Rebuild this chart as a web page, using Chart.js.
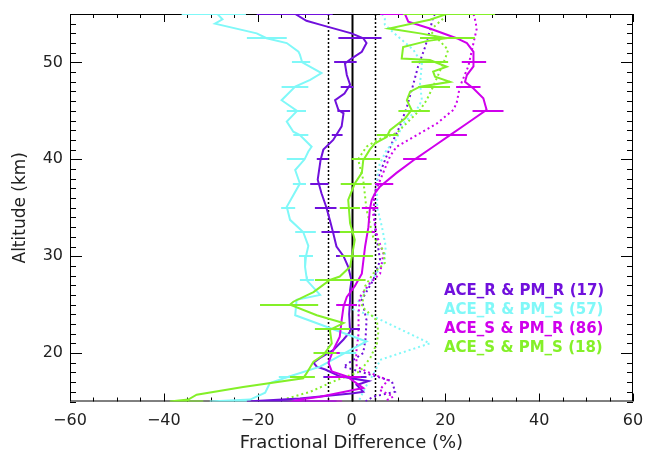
<!DOCTYPE html>
<html>
<head>
<meta charset="utf-8">
<script src="https://cdn.jsdelivr.net/npm/chart.js@4"></script>
<style>
  html, body { margin: 0; padding: 0; background: #fff; }
  #wrap { width: 645px; height: 454px; position: relative; }
</style>
</head>
<body>
<div id="wrap"><canvas id="c" width="645" height="454"></canvas></div>
<script>
// ---------------- DATA ----------------
const xTicks = [-60, -40, -20, 0, 20, 40, 60];
const yTicks = [20, 30, 40, 50];
const refLines = [-5, 0, 5];
const seriesLabels = ['ACE_R & PM_R (17)', 'ACE_R & PM_S (57)', 'ACE_S & PM_R (86)', 'ACE_S & PM_S (18)'];

// ACE_R & PM_R — solid profile
const rrAlt  = [55, 55, 55, 54.3, 53.9, 53.0, 52.5, 52.0, 51.1, 50.4, 49.9, 48.7, 47.7, 46.8, 46.1, 45.1, 44.75, 43.4, 42.0, 41.0, 39.9, 37.9, 36.5, 35.1, 33.7, 32.4, 31.0, 30.0, 28.9, 27.5, 26.5, 25.5, 24.0, 22.2, 21.4, 20.3, 19.5, 19.0, 18.6, 18.3, 17.6, 17.1, 16.7, 16.0, 15.85, 15.3, 15, 15];
const rrDiff = [-4, -20.2, -12, -9.6, -6.7, 0, 2.5, 3.2, 2.2, 0, -1.4, -1.0, -0.3, -1.5, -3.5, -2.8, -1.7, -2.1, -3.9, -6.0, -6.6, -7.2, -6.4, -5.4, -4.6, -3.9, -3.2, -1.7, -0.7, 0, -0.3, -0.3, -0.5, -0.3, -1.7, -3.9, -6.7, -8.1, -7.4, -5.6, -2.5, 3.6, 1.1, 2.5, 0.4, -11, -22.3, -3.2];
// ACE_R & PM_R — dotted profile
const rrDotAlt  = [55, 54.7, 53.3, 51.6, 49.6, 47.8, 45.4, 43.4, 41.65, 40.0, 37.9, 35.8, 33.0, 31.7, 29.6, 27.5, 25.5, 23.4, 21.5, 20.0, 18.6, 17.1, 16.0, 15.5, 15];
const rrDotDiff = [17.8, 17.4, 16.7, 15.7, 14.2, 13.2, 11.8, 10.3, 8.6, 7.2, 5.5, 4.8, 5.0, 5.4, 6.1, 4.6, 2.2, 3.2, 3.0, 2.5, -1.7, 8.6, 9.3, 4.6, 3];

// ACE_R & PM_S — solid profile
const rsAlt  = [55, 55, 55, 54.9, 54.45, 54.0, 53.0, 52.5, 52.0, 51.1, 50.8, 50.0, 48.9, 48.2, 47.5, 46.1, 45.0, 43.9, 42.85, 42.5, 41.3, 40.8, 40.0, 38.9, 37.5, 35.1, 33.75, 32.5, 31.06, 30.0, 28.9, 27.9, 27.5, 26.0, 25.5, 23.9, 21.2, 20.3, 18.6, 17.6, 16.9, 15.9, 15.2, 15, 15];
const rsDiff = [-22.5, -36.2, -28.4, -28.4, -27.5, -29.1, -20.2, -18.1, -13.8, -11.3, -11.0, -10.5, -6.4, -8.8, -12, -14.9, -11.6, -13.8, -12.4, -11, -8.5, -9.2, -10, -12.0, -11, -13.8, -13.1, -10.3, -9.2, -9.7, -9.9, -9.6, -9.5, -6.7, -11.7, -12.0, 3.2, -0.3, -6.7, -13.1, -17.4, -18.4, -21.6, -30.2, -22.3];
// ACE_R & PM_S — dotted profile
const rsDotAlt  = [55, 54.5, 53.9, 52.8, 51.3, 49.9, 47.8, 46.1, 45.1, 43.7, 42, 41, 39.5, 37.9, 35, 33, 31, 29.5, 28, 26.5, 24.5, 23.8, 21.0, 19.3, 18.1, 16.5, 15.5, 15];
const rsDotDiff = [6.5, 7.1, 7.1, 9.6, 13.2, 15, 14.6, 15, 13.9, 11, 9.5, 7.5, 6.0, 5.4, 5.5, 6.5, 7.3, 7.0, 5.0, 3.0, 0.4, 4.6, 16.7, 6.1, 5.0, 3.0, 2.0, 1.5];

// ACE_S & PM_R — solid profile
const srAlt  = [55, 55, 54.2, 53.5, 52.5, 52.0, 51.1, 49.6, 48.7, 48.0, 47.3, 46.3, 45.1, 43.7, 42.5, 41.3, 40.0, 38.6, 37.2, 36.5, 35.8, 34.8, 33.0, 31.0, 28.2, 26.9, 25.8, 24.8, 23.4, 21.7, 20.3, 19.0, 18.1, 17.6, 16.4, 15.5, 15.2, 15, 15];
const srDiff = [6.1, 11.4, 12.1, 16.7, 22.4, 24.6, 26, 26, 24.6, 24.2, 26, 28.1, 28.8, 24.6, 21, 17.4, 13.5, 9.6, 6.1, 5.0, 4.3, 3.9, 3.6, 2.9, 2.2, 0.7, -1.0, -1.7, -2.1, -2.5, -3.9, -4.9, -4.2, -1.0, 2.5, -6.7, -11, -12.5, -2];
// ACE_S & PM_R — dotted profile
const srDotAlt  = [55, 54.5, 53.5, 52, 49.6, 47.5, 45.8, 45.1, 43.7, 42.3, 41.3, 40.3, 38.2, 36.5, 34.4, 32.0, 30.3, 28.2, 27.2, 25.8, 24.0, 22.0, 20.0, 18.6, 18.1, 17.2, 16.2, 15.5, 15];
const srDotDiff = [26.0, 26.3, 26.7, 26.0, 24.9, 23.1, 22.4, 21.7, 18.2, 13.2, 9.6, 8.2, 6.4, 5.0, 4.6, 5.5, 6.8, 6.1, 3.9, 1.8, 1.5, 1.5, 1.0, 1.1, 3.2, 7.8, 6.0, 8.9, 7];

// ACE_S & PM_S — solid profile
const ssAlt  = [55, 55, 55, 54.4, 53.5, 53.0, 52.5, 52.2, 51.6, 50.4, 50.25, 49.56, 49.05, 48.53, 48.0, 47.5, 46.98, 46.1, 45.1, 44.2, 43.0, 42.3, 41.65, 41.0, 39.9, 38.6, 37.5, 35.8, 33.4, 31.7, 28.9, 27.9, 27.55, 26.3, 25.3, 25.0, 23.9, 23.1, 22.4, 21.0, 19.8, 19.1, 17.9, 17.4, 16.5, 15.7, 15.2, 15, 15];
const ssDiff = [30.6, 11, 20.3, 16.7, 8.0, 14.6, 20.3, 16.0, 11, 10.7, 16.7, 20.3, 17.4, 17.8, 21, 14.6, 12.5, 11.8, 12.8, 11.4, 8.2, 7.5, 5.0, 3.9, 2.5, 2.2, 0.7, -0.7, -0.3, 0.7, -0.3, -2.5, -4.6, -8.1, -12.4, -13.1, -7.4, -1.7, -4.6, -4.2, -6.0, -8.1, -9.6, -10.3, -23.1, -33.0, -34.8, -38.7, -31.6];
// ACE_S & PM_S — dotted profile
const ssDotAlt  = [55, 54.55, 53.3, 51.3, 50.3, 47.5, 46.1, 45.1, 42.7, 42.0, 41.3, 40.0, 37.9, 34.8, 32.0, 30.6, 29.3, 28.2, 26.9, 24.8, 23.4, 22.1, 21.0, 19.5, 18.1, 17.2, 16.0, 15.3, 15];
const ssDotDiff = [19.5, 19.6, 16.7, 20.6, 19.9, 17.4, 16.0, 14.6, 9.6, 5.5, 3.2, 1.4, 2.5, 3.2, 4.6, 6.8, 7.1, 4.6, 2.9, 2.2, 5.4, 5.7, 5.4, 4.0, 1.8, -3.2, -8.8, -13.8, -15];

// error bars (altitudes and low/high ends)
const barAlt = [52.5, 50, 47.5, 45, 42.5, 40, 37.5, 35, 32.5, 30, 27.5, 25, 22.5, 20, 17.5];
const rrBarLo = [-2.8, -3.7, -2.3, -3.0, -4.2, -7.4, -8.8, -7.8, -6.4, -3.3, -1.5, -3.2, -1.5, -5.5, -6.0];
const rrBarHi = [6.4, 1.1, 0.4, -0.3, -1.9, -4.9, -4.9, -3.2, -1.4, 0.4, 1.5, 1.1, 1.8, -2.0, 3.2];
const rsBarLo = [-22.3, -12.7, -14.9, -13.8, -12.4, -13.8, -12.5, -15, -12, -11.2, -11.0, -13.5, -6.5, -3.5, -15.5];
const rsBarHi = [-13.8, -8.8, -9.2, -9.7, -9.2, -9.9, -9.7, -12, -7.6, -8.2, -8.0, -9.5, -1.5, 1.0, -11.5];
const srBarLo = [20, 23.5, 22.3, 25.8, 18, 11, 5, 2.2, 2, 1.5, 0, -3.2, -3.5, -5.5, -5];
const srBarHi = [25, 28.7, 27.5, 32.4, 24.6, 16, 8.9, 5.7, 5, 4.5, 2.5, 1.1, -0.5, -2.5, 2];
const ssBarLo = [14.6, 12.8, 14.2, 10, 5.4, 0, -2.3, -2.5, -2.5, -2.5, -7.8, -19.5, -7.8, -8.1, -13.1];
const ssBarHi = [26.3, 20.6, 21, 16.7, 10, 6.1, 4.3, 1.8, 4.3, 4.6, 3.0, -7.1, -0.3, -3.2, -7.8];

// ---------------- STYLE ----------------
const C_RR = '#7010dc';
const C_RS = '#80f8f8';
const C_SR = '#d000ec';
const C_SS = '#84f028';
const seriesColors = [C_RR, C_RS, C_SR, C_SS];

function pts(alt, diff) { return alt.map((a, i) => ({ x: diff[i], y: a })); }

function lineDs(label, alt, diff, color, dotted) {
  return {
    label: label,
    data: pts(alt, diff),
    showLine: true,
    borderColor: color,
    backgroundColor: color,
    borderWidth: 2,
    borderDash: dotted ? [2, 3] : [],
    pointRadius: 0,
    pointHoverRadius: 0,
    tension: 0,
    fill: false
  };
}

const bars = [
  { lo: rrBarLo, hi: rrBarHi, color: C_RR },
  { lo: rsBarLo, hi: rsBarHi, color: C_RS },
  { lo: srBarLo, hi: srBarHi, color: C_SR },
  { lo: ssBarLo, hi: ssBarHi, color: C_SS }
];

const frameOnly = {
  id: 'frameOnly',
  beforeDatasetsDraw(chart) {
    const { ctx, chartArea: a, scales: { x, y } } = chart;
    ctx.save();
    refLines.forEach(v => {
      const px = Math.round(x.getPixelForValue(v)) + 0.5;
      ctx.beginPath();
      ctx.strokeStyle = '#000';
      if (v === 0) { ctx.lineWidth = 2; ctx.setLineDash([]); }
      else { ctx.lineWidth = 1.5; ctx.setLineDash([2, 2]); }
      ctx.moveTo(px, a.top); ctx.lineTo(px, a.bottom);
      ctx.stroke();
    });
    ctx.setLineDash([]);
    ctx.strokeStyle = '#000';
    ctx.lineWidth = 1;
    ctx.strokeRect(a.left + 0.5, a.top + 0.5, a.right - a.left - 1, a.bottom - a.top - 1);
    ctx.beginPath();
    for (let v = x.min; v <= x.max + 1e-6; v += 5) {
      const px = Math.round(x.getPixelForValue(v)) + 0.5;
      const len = (v % 20 === 0) ? 8 : 4;
      ctx.moveTo(px, a.bottom); ctx.lineTo(px, a.bottom - len);
      ctx.moveTo(px, a.top); ctx.lineTo(px, a.top + len);
    }
    for (let v = y.min; v <= y.max + 1e-6; v += 1) {
      const py = Math.round(y.getPixelForValue(v)) + 0.5;
      const len = (v % 10 === 0) ? 12 : 6;
      ctx.moveTo(a.left, py); ctx.lineTo(a.left + len, py);
      ctx.moveTo(a.right, py); ctx.lineTo(a.right - len, py);
    }
    ctx.stroke();
    ctx.restore();
  },
  afterDatasetsDraw(chart) {
    const { ctx, chartArea: a, scales: { x, y } } = chart;
    ctx.save();
    ctx.beginPath();
    ctx.rect(a.left - 1, a.top - 1, a.right - a.left + 2, a.bottom - a.top + 2);
    ctx.clip();
    ctx.lineWidth = 2;
    bars.forEach(b => {
      ctx.strokeStyle = b.color;
      ctx.beginPath();
      barAlt.forEach((alt, i) => {
        const py = Math.round(y.getPixelForValue(alt));
        ctx.moveTo(x.getPixelForValue(b.lo[i]), py);
        ctx.lineTo(x.getPixelForValue(b.hi[i]), py);
      });
      ctx.stroke();
    });
    ctx.restore();
    ctx.save();
    ctx.font = 'bold 15px "DejaVu Sans", sans-serif';
    ctx.textAlign = 'left';
    ctx.textBaseline = 'middle';
    seriesLabels.forEach((t, i) => {
      ctx.fillStyle = seriesColors[i];
      ctx.fillText(t, 444, 291 + i * 19.2);
    });
    ctx.restore();
  }
};

const ctx = document.getElementById('c').getContext('2d');
new Chart(ctx, {
  type: 'scatter',
  data: {
    datasets: [
      lineDs(seriesLabels[3] + ' solid', ssAlt, ssDiff, C_SS, false),
      lineDs(seriesLabels[2] + ' solid', srAlt, srDiff, C_SR, false),
      lineDs(seriesLabels[1] + ' solid', rsAlt, rsDiff, C_RS, false),
      lineDs(seriesLabels[0] + ' solid', rrAlt, rrDiff, C_RR, false),
      lineDs(seriesLabels[3] + ' dotted', ssDotAlt, ssDotDiff, C_SS, true),
      lineDs(seriesLabels[2] + ' dotted', srDotAlt, srDotDiff, C_SR, true),
      lineDs(seriesLabels[1] + ' dotted', rsDotAlt, rsDotDiff, C_RS, true),
      lineDs(seriesLabels[0] + ' dotted', rrDotAlt, rrDotDiff, C_RR, true)
    ]
  },
  options: {
    responsive: false,
    animation: false,
    layout: { padding: { top: 14, right: 12, left: 0, bottom: 0 } },
    plugins: { legend: { display: false }, tooltip: { enabled: false } },
    scales: {
      x: {
        type: 'linear',
        min: -60, max: 60,
        afterBuildTicks: s => { s.ticks = xTicks.map(v => ({ value: v })); },
        afterFit: s => { s.height = 52.5; s.paddingLeft = 0; s.paddingRight = 0; },
        grid: { display: false, drawTicks: false },
        border: { display: false },
        ticks: {
          color: '#222', padding: 10, maxRotation: 0, autoSkip: false,
          font: { family: '"DejaVu Sans", sans-serif', size: 16 },
          callback: v => (v < 0 ? '\u2212' + Math.abs(v) : String(v))
        },
        title: {
          display: true, text: 'Fractional Difference (%)', color: '#222',
          font: { family: '"DejaVu Sans", sans-serif', size: 18 },
          padding: { top: 0, bottom: 0 }
        }
      },
      y: {
        type: 'linear',
        min: 15, max: 55,
        afterBuildTicks: s => { s.ticks = yTicks.map(v => ({ value: v })); },
        afterFit: s => { s.width = 70; s.paddingTop = 0; s.paddingBottom = 0; },
        grid: { display: false, drawTicks: false },
        border: { display: false },
        ticks: {
          color: '#222', padding: 7, autoSkip: false,
          font: { family: '"DejaVu Sans", sans-serif', size: 16 }
        },
        title: {
          display: true, text: 'Altitude (km)', color: '#222',
          font: { family: '"DejaVu Sans", sans-serif', size: 17 },
          padding: { top: 10, bottom: 0 }
        }
      }
    }
  },
  plugins: [frameOnly]
});
</script>
</body>
</html>
